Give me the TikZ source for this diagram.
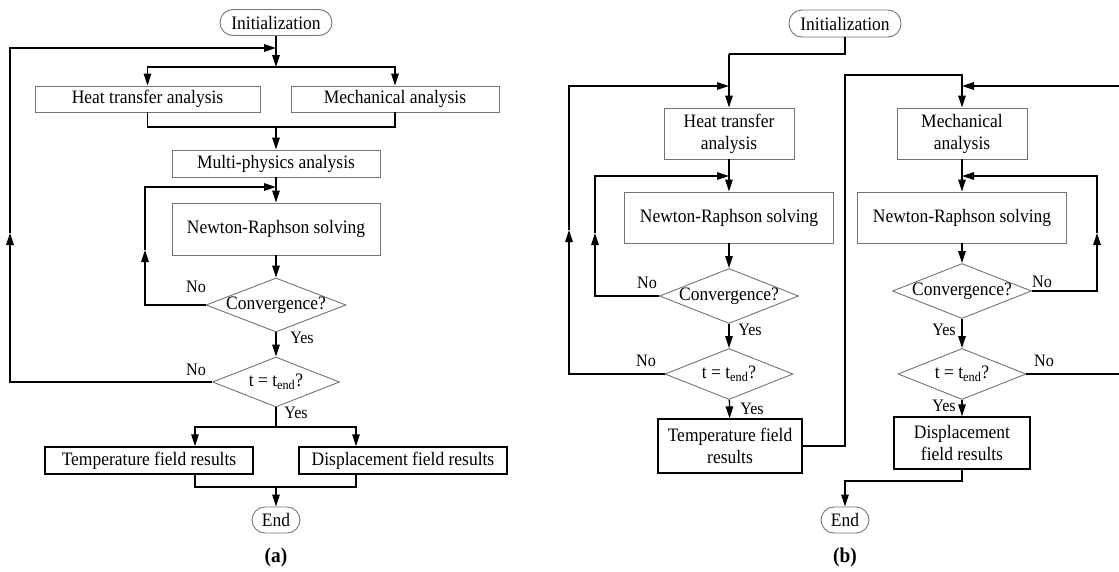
\documentclass[tikz,border=0pt]{standalone}
\usepackage{fontspec}
\setmainfont{Liberation Serif}[FakeStretch=0.92]
\usetikzlibrary{arrows.meta,shapes.geometric,calc}
\begin{document}
\begin{tikzpicture}[x=1pt,y=-1pt,
  txt/.style={font=\fontsize{19}{22}\selectfont},
  lbl/.style={font=\fontsize{17.5}{20}\selectfont, inner sep=0pt},
  box/.style={txt, draw=black!55, line width=0.9pt, rectangle, inner sep=0pt, align=center},
  resbox/.style={txt, draw=black, line width=1.3pt, rectangle, inner sep=0pt, align=center},
  term/.style={txt, draw=black!55, line width=0.9pt, rectangle, rounded corners=13pt, inner sep=0pt},
  dec/.style={txt, draw=black!55, line width=0.9pt, diamond, inner sep=0pt},
  conn/.style={line width=1.3pt, draw=black},
  arr/.style={conn, -{Triangle[length=12pt,width=7.5pt]}},
  captxt/.style={font=\fontsize{21}{24}\selectfont\bfseries}
]
\useasboundingbox (0,0) rectangle (1119,571);

% ---------------- panel (a) ----------------
\node[term, minimum width=112pt, minimum height=26pt] (initA) at (276,22.5) {Initialization};
\node[box, minimum width=225pt, minimum height=26pt] (htA) at (147.5,99) {Heat transfer analysis};
\node[box, minimum width=208pt, minimum height=26pt] (meA) at (395,99) {Mechanical analysis};
\node[box, minimum width=208pt, minimum height=27pt] (mpA) at (276,163.5) {Multi-physics analysis};
\node[box, minimum width=208pt, minimum height=52pt] (nrA) at (276,229) {Newton-Raphson solving};
\node[dec, minimum width=140pt, minimum height=54pt] (cvA) at (276,305) {\makebox[0pt]{Convergence?}};
\node[dec, minimum width=127pt, minimum height=50pt] (tA) at (276,382) {\makebox[0pt]{t = t\textsubscript{end}?}};
\node[resbox, minimum width=208pt, minimum height=27pt] (trA) at (149,460.5) {Temperature field results};
\node[resbox, minimum width=208pt, minimum height=27pt] (drA) at (403,460.5) {Displacement field results};
\node[term, minimum width=48pt, minimum height=26pt] (endA) at (276,520) {End};
\node[captxt] (capA) at (276,557) {(a)};

\coordinate (brA) at (276,67);
\coordinate (lpA) at (276,48);
\coordinate (moA) at (10,233);
\coordinate (mgA) at (276,127);
\coordinate (ilA) at (276,187);
\coordinate (miA) at (145,250);
\coordinate (rbA) at (276,427);
\coordinate (rbL) at (195,427);
\coordinate (rbR) at (356,427);
\coordinate (emA) at (276,487);

\draw[arr] (initA) -- (brA);
\draw[arr] (brA) -| (htA);
\draw[arr] (brA) -| (meA);
\draw[conn] (htA) |- (mgA);
\draw[conn] (meA) |- (mgA);
\draw[arr] (mgA) -- (mpA);
\draw[arr] (mpA) -- (nrA);
\draw[arr] (nrA) -- (cvA);
\draw[arr] (cvA) -- (tA);
\draw[arr] (cvA.west) -| (miA);
\draw[arr] (miA) |- (ilA);
\draw[arr] (tA.west) -| (moA);
\draw[arr] (moA) |- (lpA);
\draw[conn] (tA) -- (rbA);
\draw[arr] (rbA) -| (rbL |- trA.north);
\draw[arr] (rbA) -| (rbR |- drA.north);
\draw[conn] (rbL |- trA.south) |- (emA);
\draw[conn] (rbR |- drA.south) |- (emA);
\draw[arr] (emA) -- (endA);

\node[lbl] (noA1) at (196,287) {No};
\node[lbl] (yesA1) at (302,338) {Yes};
\node[lbl] (noA2) at (196,370) {No};
\node[lbl] (yesA2) at (296,413) {Yes};

% ---------------- panel (b) ----------------
\node[term, minimum width=112pt, minimum height=27pt] (initB) at (845,23.5) {Initialization};
\node[box, minimum width=130pt, minimum height=51pt] (htB) at (729,133.5) {Heat transfer\\analysis};
\node[box, minimum width=130pt, minimum height=51pt] (meB) at (962,133.5) {Mechanical\\analysis};
\node[box, minimum width=209pt, minimum height=51pt] (nrB1) at (729,217.5) {Newton-Raphson solving};
\node[box, minimum width=209pt, minimum height=51pt] (nrB2) at (962,217.5) {Newton-Raphson solving};
\node[dec, minimum width=139pt, minimum height=55pt] (cvB1) at (729,296) {\makebox[0pt]{Convergence?}};
\node[dec, minimum width=139pt, minimum height=55pt] (cvB2) at (962,291) {\makebox[0pt]{Convergence?}};
\node[dec, minimum width=128pt, minimum height=51pt] (tB1) at (729,374) {\makebox[0pt]{t = t\textsubscript{end}?}};
\node[dec, minimum width=128pt, minimum height=51pt] (tB2) at (962,374) {\makebox[0pt]{t = t\textsubscript{end}?}};
\node[resbox, minimum width=144pt, minimum height=54pt] (trB) at (730,446) {Temperature field\\results};
\node[resbox, minimum width=136pt, minimum height=52pt] (drB) at (962,443) {Displacement\\field results};
\node[term, minimum width=48pt, minimum height=26pt] (endB) at (845,520) {End};
\node[captxt] (capB) at (845,557) {(b)};

\coordinate (kB) at (729,54);
\coordinate (lB1) at (729,86);
\coordinate (mB1) at (569,230);
\coordinate (ilB1) at (729,176);
\coordinate (mB2) at (595,233);
\coordinate (uB) at (845,75);
\coordinate (lB2) at (962,86);
\coordinate (rB) at (1122,230);
\coordinate (ilB2) at (962,176);
\coordinate (mB3) at (1097,233);
\coordinate (vB) at (845,481);

\draw[conn] (initB) |- (kB);
\draw[arr] (kB) -- (htB);
\draw[arr] (tB1.west) -| (mB1);
\draw[arr] (mB1) |- (lB1);
\draw[arr] (htB) -- (nrB1);
\draw[arr] (cvB1.west) -| (mB2);
\draw[arr] (mB2) |- (ilB1);
\draw[arr] (nrB1) -- (cvB1);
\draw[arr] (cvB1) -- (tB1);
\draw[arr] (tB1) -- (trB);
\draw[arr] (trB.east) -| (uB) -| (meB);
\draw[arr] (tB2.east) -| (rB) |- (lB2);
\draw[arr] (meB) -- (nrB2);
\draw[arr] (cvB2.east) -| (mB3);
\draw[arr] (mB3) |- (ilB2);
\draw[arr] (nrB2) -- (cvB2);
\draw[arr] (cvB2) -- (tB2);
\draw[arr] (tB2) -- (drB);
\draw[arr] (drB) |- (vB) -- (endB);

\node[lbl] (noB1) at (647,283) {No};
\node[lbl] (yesB1) at (750,330) {Yes};
\node[lbl] (noB2) at (646,361) {No};
\node[lbl] (yesB2) at (752,409) {Yes};
\node[lbl] (noB3) at (1042,282) {No};
\node[lbl] (yesB3) at (944,330) {Yes};
\node[lbl] (noB4) at (1044,361) {No};
\node[lbl] (yesB4) at (944,406) {Yes};
\end{tikzpicture}
\end{document}
